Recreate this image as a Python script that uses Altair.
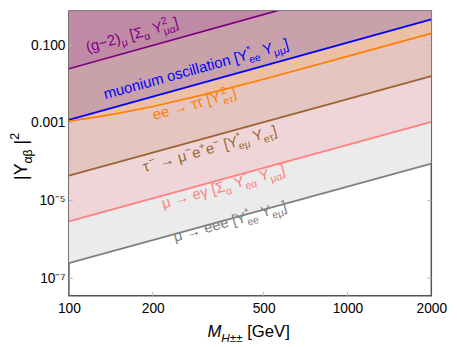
import math
import altair as alt
import pandas as pd

# ---------------- data ----------------
M_ENDS = [100, 2000]
G2_Y = [0.025, 10.0]            # (g-2)_mu
MUONIUM_Y = [1.2e-3, 0.47]      # muonium oscillation
EETT_M = [100, 125, 150, 200, 300, 500, 1000, 2000]
EETT_Y = [1.12e-3, 1.41e-3, 1.76e-3, 2.66e-3, 5.22e-3, 1.34e-2, 5.19e-2, 0.205]
TAU_Y = [4.4e-5, 0.0162]        # tau -> mu e e
MEG_Y = [2.9e-6, 1.07e-3]       # mu -> e gamma
MEEE_Y = [2.45e-7, 9.0e-5]      # mu -> eee

SERIES = ["g2", "muonium", "eett", "tau3l", "meg", "m3e"]
SERIES_M = [M_ENDS, M_ENDS, EETT_M, M_ENDS, M_ENDS, M_ENDS]
SERIES_Y = [G2_Y, MUONIUM_Y, EETT_Y, TAU_Y, MEG_Y, MEEE_Y]

X_TICKS = [100, 200, 500, 1000, 2000]
X_TICK_LABELS = ["100", "200", "500", "1000", "2000"]
Y_TICKS = [0.1, 1e-3, 1e-5, 1e-7]
Y_TICK_LABELS = ["0.100", "0.001", "10⁻⁵", "10⁻⁷"]

LABEL_TOKENS = [
    [("n", "(g−2)"), ("sub", "μ"), ("n", " [Σ"), ("sub", "α"), ("n", " Y"), ("supsub", "2", "μα"), ("n", "]")],
    [("n", "muonium oscillation [Y"), ("supsub", "*", "ee"), ("n", " Y"), ("sub", "μμ"), ("n", "]")],
    [("n", "ee → ττ [Y"), ("supsub", "2", "eτ"), ("n", "]")],
    [("n", "τ"), ("sup", "−"), ("n", " → μ"), ("sup", "−"), ("n", "e"), ("sup", "+"), ("n", "e"), ("sup", "−"),
     ("n", " [Y"), ("supsub", "*", "eμ"), ("n", " Y"), ("sub", "eτ"), ("n", "]")],
    [("n", "μ → eγ [Σ"), ("sub", "α"), ("n", " Y"), ("supsub", "*", "eα"), ("n", " Y"), ("sub", "μα"), ("n", "]")],
    [("n", "μ → eee [Y"), ("supsub", "*", "ee"), ("n", " Y"), ("sub", "eμ"), ("n", "]")],
]
LABEL_M = [116.7, 135.1, 202.6, 186.8, 218.0, 240.4]
LABEL_Y = [0.0665, 4.06e-3, 1.19e-3, 5.42e-5, 6.27e-6, 8.65e-7]

X_TITLE = [("i", "M"), ("isub", "H"), ("sub", "±±"), ("n", " [GeV]")]
Y_TITLE = [("n", "|Y"), ("sub", "αβ"), ("n", " |"), ("sup", "2")]

# ---------------- styles ----------------
LINE_COLORS = ["#800080", "#0000ff", "#ff8000", "#996633", "#ff8080", "#808080"]
FILL_COLORS = ["#bf8aa6", "#c9a1ab", "#ecc0a6", "#e5c5c0", "#f0d5d8", "#ebebeb"]
FONT = "Liberation Sans"
W, H = 369, 290
OX, OY = 70, 8
X_DOM = [100, 2000]
Y_DOM = [10 ** -7.456, 10 ** -0.114]
LABEL_FS = 15.2
ANG = 344.43

LX0, LX1 = math.log10(X_DOM[0]), math.log10(X_DOM[1])
LY0, LY1 = math.log10(Y_DOM[0]), math.log10(Y_DOM[1])


def to_page(m, y):
    return (OX + (math.log10(m) - LX0) / (LX1 - LX0) * W,
            OY + (LY1 - math.log10(y)) / (LY1 - LY0) * H)


def to_data(px, py):
    return (10 ** (LX0 + (px - OX) / W * (LX1 - LX0)),
            10 ** (LY1 - (py - OY) / H * (LY1 - LY0)))


WID = {' ': 0.278, 'a': 0.556, 'b': 0.556, 'c': 0.5, 'd': 0.556, 'e': 0.556, 'f': 0.278, 'g': 0.556,
       'h': 0.556, 'i': 0.222, 'l': 0.222, 'm': 0.833, 'n': 0.556, 'o': 0.556, 'r': 0.333, 's': 0.5,
       't': 0.278, 'u': 0.556, 'G': 0.778, 'V': 0.667, 'Y': 0.667, 'M': 0.833, 'H': 0.722,
       '(': 0.333, ')': 0.333, '[': 0.278, ']': 0.278, '|': 0.26, '−': 0.584, '2': 0.556,
       '*': 0.389, '+': 0.584, '±': 0.549, '→': 1.0, 'μ': 0.577, 'α': 0.578, 'β': 0.575,
       'γ': 0.5, 'τ': 0.45, 'Σ': 0.618}


def text_w(s, fs):
    return sum(WID.get(c, 0.556) for c in s) * fs


def layout(tokens, sx, sy, ang, fs, color):
    th = math.radians(ang)
    ux, uy = math.cos(th), math.sin(th)
    vx, vy = -math.sin(th), math.cos(th)
    rows = []
    state = {"adv": 0.0}
    sfs = fs * 0.7

    def put(txt, size, dy, italic, advance):
        lead = len(txt) - len(txt.lstrip(" "))
        a = state["adv"] + text_w(" " * lead, size)
        px = sx + a * ux + dy * vx
        py = sy + a * uy + dy * vy
        m, y = to_data(px, py)
        rows.append(dict(M=m, Y=y, t=txt.strip(" "), fs=size, ang=ang, it=italic, col=color))
        if advance:
            state["adv"] += text_w(txt, size)

    for tok in tokens:
        k = tok[0]
        if k in ("n", "i"):
            put(tok[1], fs, 0, k == "i", True)
        elif k in ("sub", "isub"):
            put(tok[1], sfs, 0.28 * fs, k == "isub", True)
        elif k == "sup":
            put(tok[1], sfs, -0.42 * fs, False, True)
        elif k == "supsub":
            put(tok[1], sfs, -0.42 * fs, False, False)
            put(tok[2], sfs, 0.28 * fs, False, False)
            state["adv"] += max(text_w(tok[1], sfs), text_w(tok[2], sfs))
    return rows


text_rows = []
for toks, m, y, c in zip(LABEL_TOKENS, LABEL_M, LABEL_Y, LINE_COLORS):
    sx, sy = to_page(m, y)
    text_rows += layout(toks, sx, sy, ANG, LABEL_FS, c)
text_rows += layout(X_TITLE, 211, 340, 0, 17, "black")
text_rows += layout(Y_TITLE, 27, 180, 270, 18, "black")
text_df = pd.DataFrame(text_rows)

xs = alt.Scale(type="log", domain=X_DOM)
ys = alt.Scale(type="log", domain=Y_DOM)


def label_expr(ticks, labels):
    order = sorted(zip(ticks, labels), reverse=True)
    expr = "'" + order[-1][1] + "'"
    for i in range(len(order) - 2, -1, -1):
        thr = math.sqrt(order[i][0] * order[i + 1][0])
        expr = f"datum.value > {thr:.6g} ? '{order[i][1]}' : ({expr})"
    return expr


x_axis = alt.Axis(values=X_TICKS, labelExpr=label_expr(X_TICKS, X_TICK_LABELS), ticks=False, domain=False,
                  grid=False, title=None, labelFont=FONT, labelFontSize=14, labelColor="black",
                  labelPadding=6, labelFlush=False, labelOverlap=False)
y_axis = alt.Axis(values=Y_TICKS, labelExpr=label_expr(Y_TICKS, Y_TICK_LABELS), ticks=False, domain=False,
                  grid=False, title=None, labelFont=FONT, labelFontSize=14, labelColor="black",
                  labelPadding=4, labelFlush=False, labelOverlap=False)

layers = []
first = True
for i in reversed(range(len(SERIES))):
    df = pd.DataFrame({"M": SERIES_M[i], "Y": SERIES_Y[i]})
    xe = alt.X("M:Q", scale=xs, axis=x_axis) if first else alt.X("M:Q", scale=xs)
    ye = alt.Y("Y:Q", scale=ys, axis=y_axis, stack=None) if first else alt.Y("Y:Q", scale=ys, stack=None)
    layers.append(
        alt.Chart(df).mark_area(clip=True, color=FILL_COLORS[i], opacity=1).encode(
            x=xe, y=ye, y2=alt.value(0),
        )
    )
    first = False
for i in range(len(SERIES)):
    df = pd.DataFrame({"M": SERIES_M[i], "Y": SERIES_Y[i]})
    layers.append(
        alt.Chart(df).mark_line(clip=True, color=LINE_COLORS[i], strokeWidth=1.8).encode(
            x=alt.X("M:Q", scale=xs),
            y=alt.Y("Y:Q", scale=ys),
        )
    )

# small inward frame ticks (Mathematica style)
TICK_COLOR = "#b5b5b5"
ytk = pd.DataFrame({"Y": Y_TICKS})
xtk = pd.DataFrame({"M": X_TICKS[1:-1]})
layers += [
    alt.Chart(ytk).mark_rule(color=TICK_COLOR, strokeWidth=1).encode(
        y=alt.Y("Y:Q", scale=ys), x=alt.value(0), x2=alt.value(4)),
    alt.Chart(ytk).mark_rule(color=TICK_COLOR, strokeWidth=1).encode(
        y=alt.Y("Y:Q", scale=ys), x=alt.value(W - 4), x2=alt.value(W)),
    alt.Chart(xtk).mark_rule(color=TICK_COLOR, strokeWidth=1).encode(
        x=alt.X("M:Q", scale=xs), y=alt.value(H - 4), y2=alt.value(H)),
]

for italic in (False, True):
    sub = text_df[text_df.it == italic]
    mk = alt.Chart(sub).mark_text(align="left", baseline="alphabetic", font=FONT,
                                  fontStyle="italic" if italic else "normal")
    layers.append(
        mk.encode(
            x=alt.X("M:Q", scale=xs),
            y=alt.Y("Y:Q", scale=ys),
            text="t:N",
            angle=alt.Angle("ang:Q", scale=None),
            size=alt.Size("fs:Q", scale=None),
            color=alt.Color("col:N", scale=None),
        )
    )

chart = alt.layer(*layers).properties(
    width=W, height=H, autosize="none",
    padding={"left": OX - 8, "top": OY - 8, "right": 18, "bottom": 49},
).configure_view(stroke="#555555", strokeWidth=1.5)

chart.save("out.html", embed_options={"renderer": "svg", "actions": False})
